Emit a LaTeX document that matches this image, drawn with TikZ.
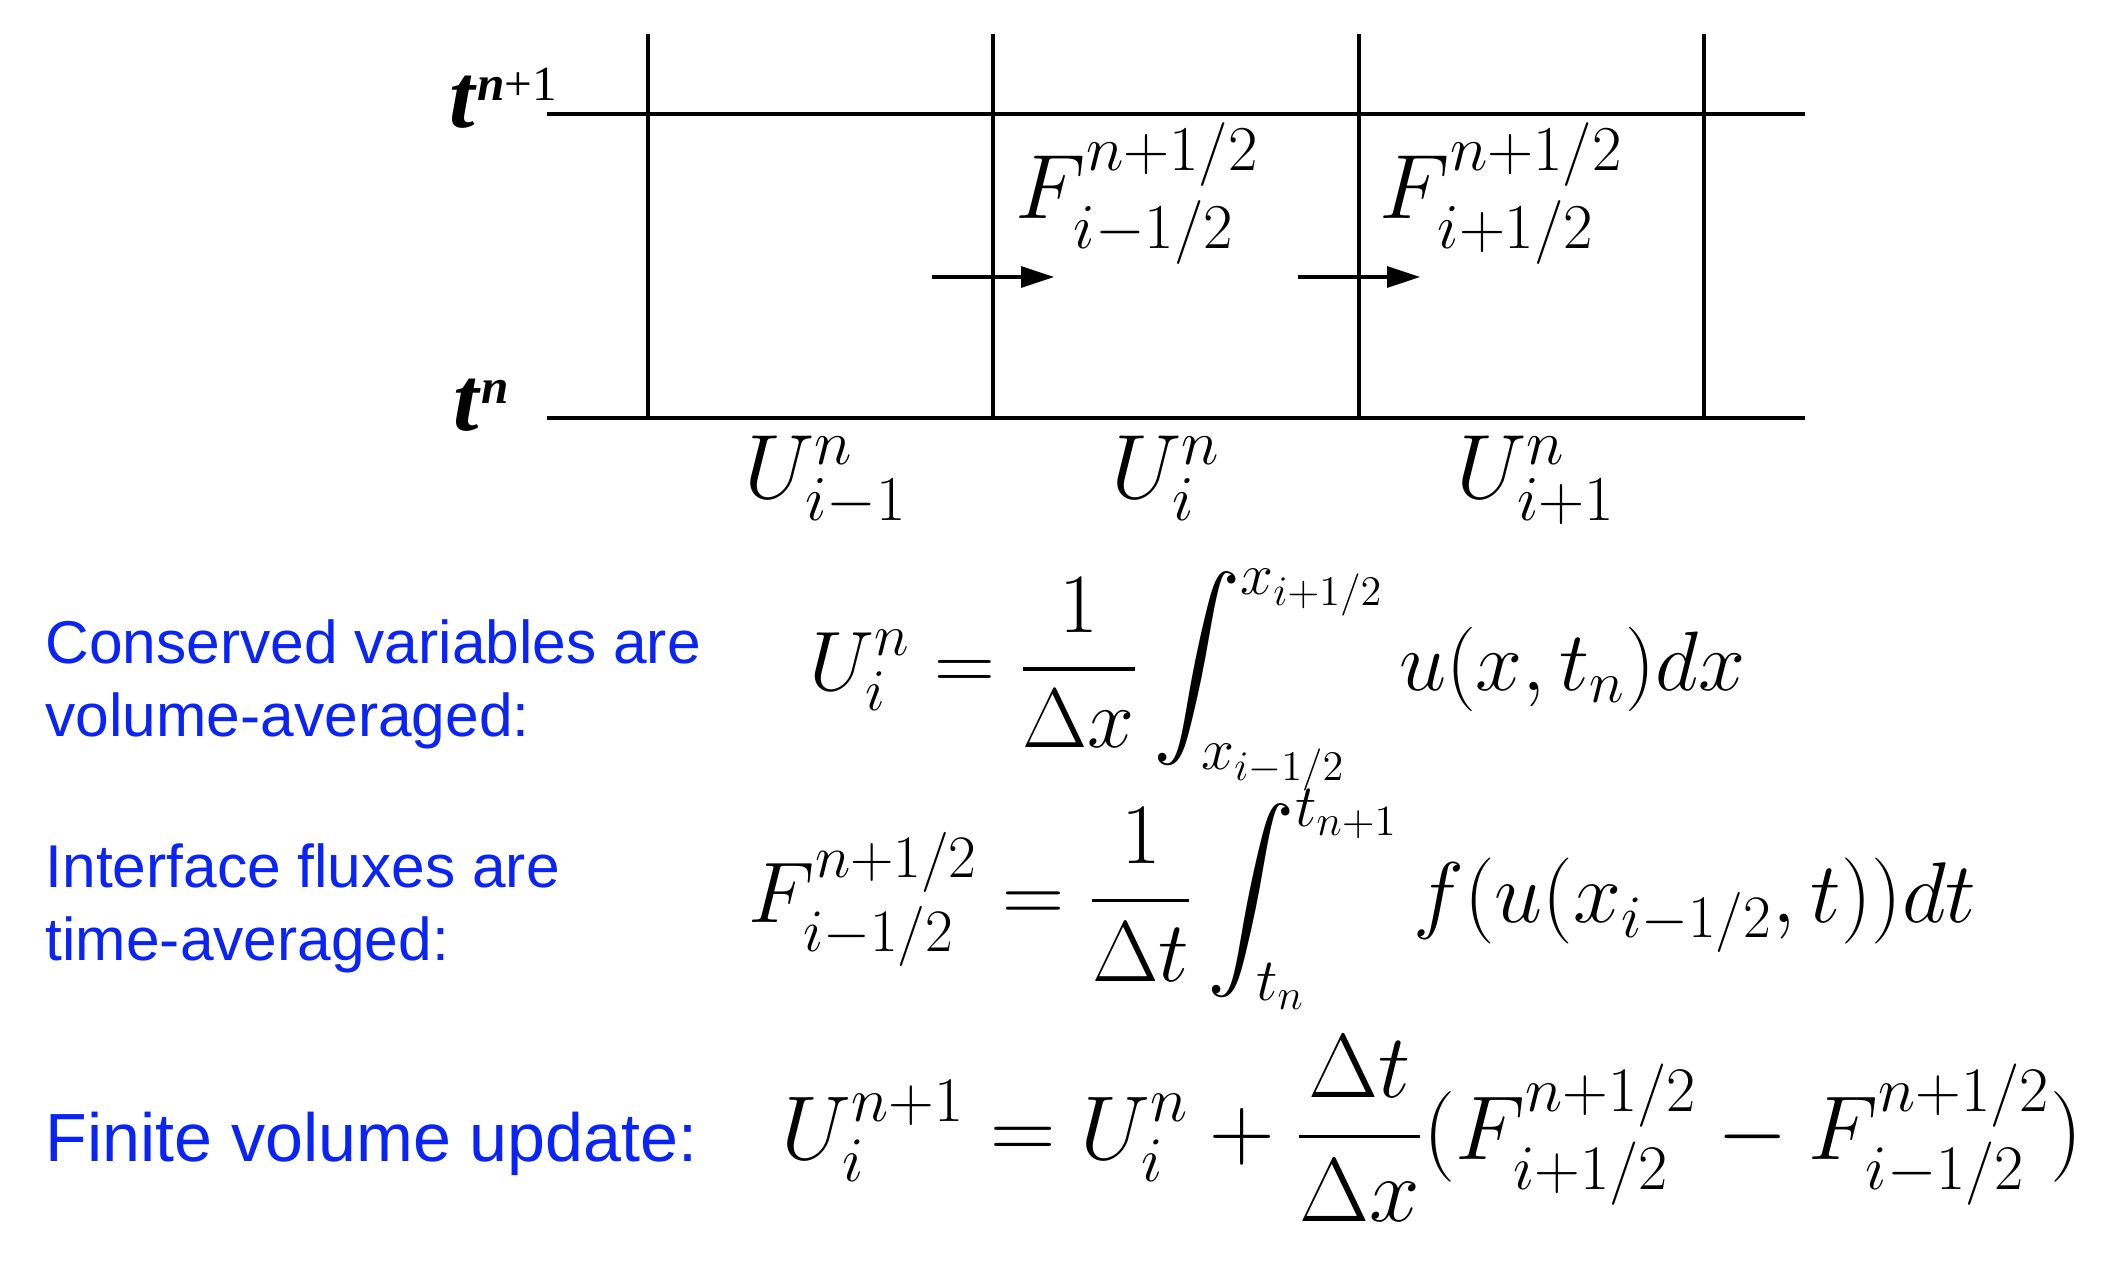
\RequirePackage{fix-cm}
\documentclass[tikz,border=0pt]{standalone}
\usepackage{exscale}
\usepackage{fontspec}
\usepackage{tikz}
\usetikzlibrary{arrows.meta,positioning}
\newfontfamily\notefont{Liberation Sans}
\newfontfamily\timefont{Liberation Serif}
\definecolor{fvBlue}{HTML}{0A24F5}
\newcommand{\timelevel}[1]{\textbf{\textit{t}}\raisebox{7.6pt}{\fontsize{14}{14}\selectfont #1}}
\tikzset{
  grid line/.style={line width=0.9pt},
  flux arrow/.style={-{Triangle[length=3.3mm,width=2.1mm]},line width=0.9pt},
  cell label/.style={font=\fontsize{26}{30}\selectfont,inner sep=0pt},
  time label/.style={font=\timefont\fontsize{26}{28}\selectfont,inner sep=0pt,anchor=base west},
  note text/.style={font=\notefont\fontsize{17.2}{20.5}\selectfont,text=fvBlue,
    align=left,inner sep=0pt,anchor=base west},
  formula/.style={font=\fontsize{24}{28}\selectfont,inner sep=0pt,anchor=base west}
}
\begin{document}
\begin{tikzpicture}[x=0.1mm,y=-0.1mm]
\useasboundingbox (0,0) rectangle (2122,1266);
% time levels and cell faces
\coordinate (new-w) at (547,114);
\coordinate (new-e) at (1805,114);
\coordinate (old-w) at (547,418);
\coordinate (old-e) at (1805,418);
\draw[grid line] (new-w) -- (new-e);
\draw[grid line] (old-w) -- (old-e);
\draw[grid line] (648,34) -- (648,418);
\draw[grid line] (993,34) -- (993,418);
\draw[grid line] (1359,34) -- (1359,418);
\draw[grid line] (1704,34) -- (1704,418);
\node[time label] (t-new) at (449,127) {\timelevel{\textbf{\textit{n}}+1}};
\node[time label] (t-old) at (453,430) {\timelevel{\textbf{\textit{n}}}};
% fluxes through the faces
\coordinate (fl-tail) at (932,277);
\coordinate (fl-head) at (1054,277);
\coordinate (fr-tail) at (1298,277);
\coordinate (fr-head) at (1420,277);
\draw[flux arrow] (fl-tail) -- (fl-head);
\draw[flux arrow] (fr-tail) -- (fr-head);
\node[cell label,anchor=base west] (f-left) at (1015,218) {$F^{n+1/2}_{i-1/2}$};
\node[cell label,anchor=base west] (f-right) at (1379,218) {$F^{n+1/2}_{i+1/2}$};
% cell averages
\node[cell label,anchor=base] (u-left) at (826,498) {$U^n_{i-1}$};
\node[cell label,anchor=base] (u-mid) at (1166,498) {$U^n_i$};
\node[cell label,anchor=base] (u-right) at (1536,498) {$U^n_{i+1}$};
% definitions
\node[note text] (cons-text) at (45,736) {Conserved variables are\\volume-averaged:};
\node[formula] (cons-eq) at (809,690)
  {$\displaystyle U^n_i = \frac{1}{\Delta x}\int_{x_{i-1/2}}^{x_{i+1/2}} u(x,t_n)dx$};
\node[note text] (flux-text) at (45,960) {Interface fluxes are\\time-averaged:};
\node[formula,font=\fontsize{24.5}{28}\selectfont] (flux-eq) at (748,922)
  {$\displaystyle F^{n+1/2}_{i-1/2} = \frac{1}{\Delta t}\int_{t_n}^{t_{n+1}} f(u(x_{i-1/2},t))dt$};
\node[note text,font=\notefont\fontsize{19.4}{22}\selectfont] (update-text) at (45,1161) {Finite volume update:};
\node[formula,font=\fontsize{25.8}{30}\selectfont] (update-eq) at (781,1159)
  {$\displaystyle U^{n+1}_i = U^n_i + \frac{\Delta t}{\Delta x}(F^{n+1/2}_{i+1/2} - F^{n+1/2}_{i-1/2})$};
\end{tikzpicture}
\end{document}
